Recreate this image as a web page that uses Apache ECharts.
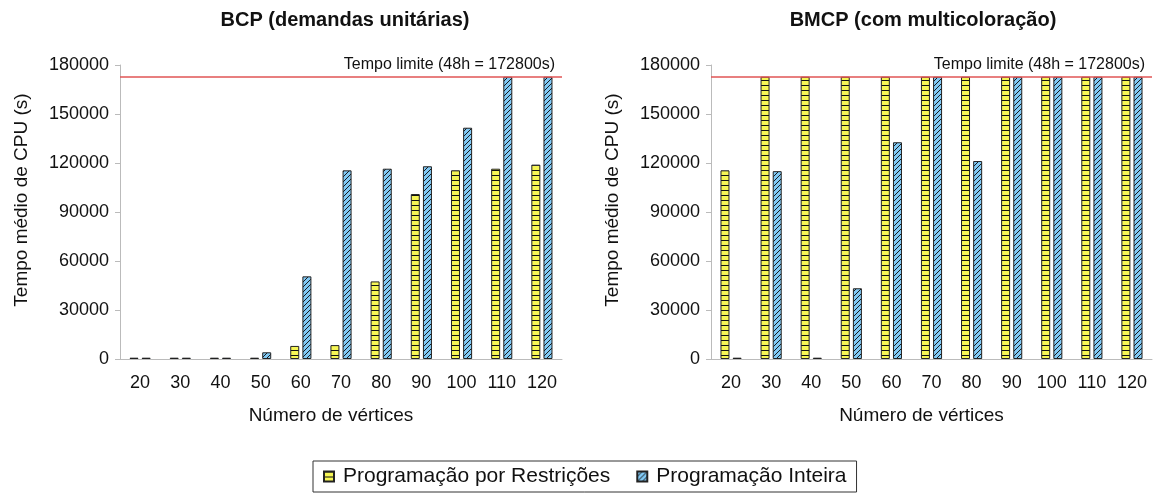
<!DOCTYPE html>
<html><head><meta charset="utf-8">
<script src="https://cdn.jsdelivr.net/npm/echarts@6/dist/echarts.min.js"></script>
<style>html,body{margin:0;padding:0;background:#fff}#c{width:1153px;height:497px}</style>
</head><body><div id="c"></div>
<script>
var categories = ['20','30','40','50','60','70','80','90','100','110','120'];
var seriesNames = ['Programação por Restrições','Programação Inteira'];
var bcpPR = [800, 800, 800, 800, 8000, 8500, 47500, 101000, 115500, 116500, 119000];
var bcpPI = [800, 800, 800, 4100, 50600, 115500, 116500, 118000, 141600, 172800, 172800];
var bmcpPR = [115500, 172800, 172800, 172800, 172800, 172800, 172800, 172800, 172800, 172800, 172800];
var bmcpPI = [800, 115000, 800, 43300, 132700, 172800, 121200, 172800, 172800, 172800, 172800];
var timeLimit = 172800;
var timeLimitLabel = 'Tempo limite (48h = 172800s)';
var titles = ['BCP (demandas unitárias)', 'BMCP (com multicoloração)'];
var yMin = 0, yMax = 180000, yStep = 30000;

function makeYellow(){
  var c = document.createElement('canvas'); c.width = 4; c.height = 5;
  var g = c.getContext('2d');
  g.fillStyle = '#f6f655'; g.fillRect(0,0,4,5);
  g.fillStyle = '#111'; g.fillRect(0,0,4,1);
  return c;
}
function makeBlue(){
  var s = 5;
  var c = document.createElement('canvas'); c.width = s; c.height = s;
  var g = c.getContext('2d');
  g.fillStyle = '#80c9f5'; g.fillRect(0,0,s,s);
  g.strokeStyle = '#1a1a1a'; g.lineWidth = 1;
  g.beginPath();
  g.moveTo(0, s); g.lineTo(s, 0);
  g.moveTo(-1, 1); g.lineTo(1, -1);
  g.moveTo(s-1, s+1); g.lineTo(s+1, s-1);
  g.stroke();
  return c;
}
var yPat = {image: makeYellow(), repeat: 'repeat'};
var bPat = {image: makeBlue(), repeat: 'repeat'};

var font = 'Liberation Sans, Arial, sans-serif';
var grids = [
  {left: 120, top: 65, width: 442, height: 294},
  {left: 711, top: 65, width: 441, height: 294}
];
function xAxis(i){
  return {gridIndex: i, type: 'category', data: categories, boundaryGap: true,
    axisLine: {lineStyle: {color: '#bbbbbb', width: 1}},
    axisTick: {length: 6, lineStyle: {color: '#bbbbbb'}},
    axisLabel: {color: '#111', fontSize: 18, fontFamily: font, margin: 15},
    name: 'Número de vértices', nameLocation: 'middle', nameGap: 47,
    nameTextStyle: {color: '#111', fontSize: 19, fontFamily: font, padding: [0, 20, 0, 0]}};
}
function xAxisInner(i){
  return {gridIndex: i, type: 'category', data: categories, boundaryGap: true,
    axisLine: {show: false},
    axisTick: {inside: true, length: 6, lineStyle: {color: '#bbbbbb'}},
    axisLabel: {show: false}};
}
function yAxis(i){
  return {gridIndex: i, type: 'value', min: yMin, max: yMax, interval: yStep,
    axisLine: {show: true, lineStyle: {color: '#bbbbbb'}},
    axisTick: {show: true, length: 5, lineStyle: {color: '#bbbbbb'}},
    splitLine: {show: false},
    axisLabel: {color: '#111', fontSize: 18, fontFamily: font, margin: 11,
      formatter: function(v){ return String(v); }},
    name: 'Tempo médio de CPU (s)', nameLocation: 'middle', nameGap: 89,
    nameTextStyle: {color: '#111', fontSize: 19, fontFamily: font, padding: [0, 0, 0, 24]}};
}
function bar(name, data, pat, gi, withLine){
  var s = {name: name, type: 'bar', xAxisIndex: gi, yAxisIndex: gi, data: data,
    barWidth: 9, barGap: '35%',
    itemStyle: {color: pat, borderColor: '#222', borderWidth: 1}};
  if (withLine) {
    s.markLine = {silent: true, symbol: 'none',
      lineStyle: {color: '#e05555', width: 1.5, type: 'solid'},
      label: {show: true, position: 'insideEndTop', formatter: timeLimitLabel,
        color: '#111', fontSize: 16, fontFamily: font, distance: [7, 4]},
      data: [{yAxis: timeLimit}]};
  }
  return s;
}
var chart = echarts.init(document.getElementById('c'));
chart.setOption({
  animation: false,
  backgroundColor: '#fff',
  title: [
    {text: titles[0], left: 340, top: 5, textAlign: 'center', textStyle: {fontSize: 20, fontWeight: 'bold', color: '#111', fontFamily: font}},
    {text: titles[1], left: 918, top: 5, textAlign: 'center', textStyle: {fontSize: 20, fontWeight: 'bold', color: '#111', fontFamily: font}}
  ],
  legend: {data: seriesNames, left: 313, top: 461,
    borderColor: '#333', borderWidth: 1, padding: [5, 10, 5, 10], itemGap: 26,
    itemWidth: 10, itemHeight: 10, icon: 'rect',
    textStyle: {fontSize: 21, color: '#111', fontFamily: font, padding: [0, 0, 0, 4]}},
  grid: grids,
  xAxis: [xAxis(0), xAxis(1), xAxisInner(0), xAxisInner(1)],
  yAxis: [yAxis(0), yAxis(1)],
  series: [
    bar(seriesNames[0], bcpPR, yPat, 0, true),
    bar(seriesNames[1], bcpPI, bPat, 0, false),
    bar(seriesNames[0], bmcpPR, yPat, 1, true),
    bar(seriesNames[1], bmcpPI, bPat, 1, false)
  ]
});
</script></body></html>
